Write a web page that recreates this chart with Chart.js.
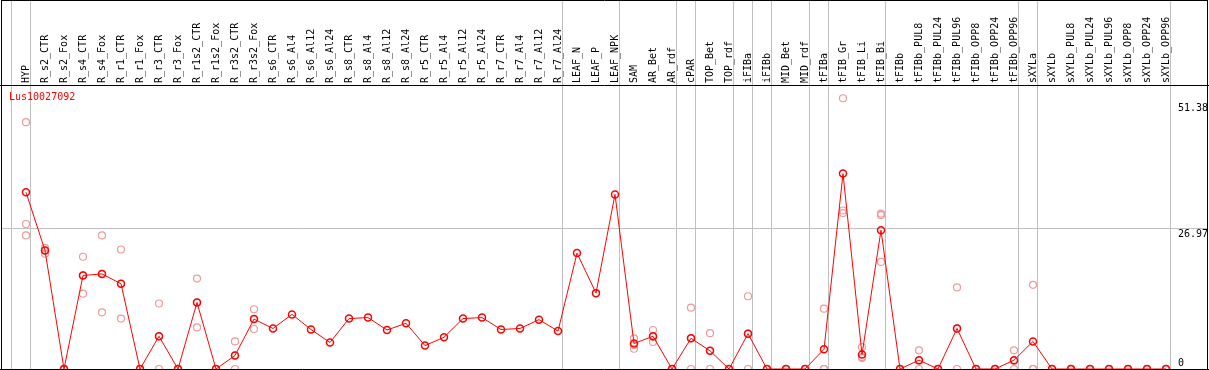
<!DOCTYPE html>
<html>
<head>
<meta charset="utf-8">
<script src="https://cdn.jsdelivr.net/npm/chart.js@4/dist/chart.umd.min.js"></script>
<style>
  html, body { margin: 0; padding: 0; background: #fff; }
  #wrap { width: 1209px; height: 370px; }
</style>
</head>
<body>
<div id="wrap"><canvas id="chart" width="1209" height="370"></canvas></div>
<script>
const seriesName = "Lus10027092";

const sampleLabels = [
  "HYP", "R_s2_CTR", "R_s2_Fox", "R_s4_CTR", "R_s4_Fox", "R_r1_CTR", "R_r1_Fox",
  "R_r3_CTR", "R_r3_Fox", "R_r1s2_CTR", "R_r1s2_Fox", "R_r3s2_CTR", "R_r3s2_Fox",
  "R_s6_CTR", "R_s6_Al4", "R_s6_Al12", "R_s6_Al24", "R_s8_CTR", "R_s8_Al4",
  "R_s8_Al12", "R_s8_Al24", "R_r5_CTR", "R_r5_Al4", "R_r5_Al12", "R_r5_Al24",
  "R_r7_CTR", "R_r7_Al4", "R_r7_Al12", "R_r7_Al24", "LEAF_N", "LEAF_P", "LEAF_NPK",
  "SAM", "AR_Bet", "AR_rdf", "cPAR", "TOP_Bet", "TOP_rdf", "iFIBa", "iFIBb",
  "MID_Bet", "MID_rdf", "tFIBa", "tFIB_Gr", "tFIB_Li", "tFIB_Bi", "tFIBb",
  "tFIBb_PUL8", "tFIBb_PUL24", "tFIBb_PUL96", "tFIBb_OPP8", "tFIBb_OPP24", "tFIBb_OPP96",
  "sXYLa", "sXYLb", "sXYLb_PUL8", "sXYLb_PUL24", "sXYLb_PUL96", "sXYLb_OPP8",
  "sXYLb_OPP24", "sXYLb_OPP96"
];

// mean expression per sample
const meanValues = [
  34.0, 22.8, 0, 18.0, 18.3, 16.4, 0, 6.3, 0, 12.8, 0, 2.6, 9.6,
  7.8, 10.5, 7.6, 5.1, 9.7, 9.9, 7.5, 8.8, 4.5, 6.1, 9.7, 9.9,
  7.6, 7.8, 9.5, 7.3, 22.3, 14.6, 33.6,
  4.9, 6.3, 0, 5.9, 3.5, 0, 6.8, 0, 0, 0, 3.8, 37.6, 2.8, 26.7, 0,
  1.7, 0, 7.8, 0, 0, 1.7,
  5.3, 0, 0, 0, 0, 0, 0, 0
];

// individual replicates (null = not shown)
const rep1 = [
  47.5, 23.3, 0, 21.6, 25.7, 23.0, 0, 12.6, 0, 17.4, 0, 5.3, 11.5,
  null, null, null, null, null, null, null, null, null, null, null, null,
  null, null, null, null, null, null, null,
  5.9, 7.5, 0, 11.8, 6.9, 0, 14.0, 0, 0, 0, 11.6, 52.1, 4.2, 29.9, 0,
  3.6, 0, 15.7, 0, 0, 3.6,
  16.2, 0, 0, 0, 0, 0, 0, 0
];
const rep2 = [
  27.9, 22.2, 0, 14.5, 10.9, 9.7, 0, 0, 0, 8.0, 0, 0, 7.7,
  null, null, null, null, null, null, null, null, null, null, null, null,
  null, null, null, null, null, null, null,
  4.6, 5.2, 0, 0, 0, 0, 0, 0, 0, 0, 0, 30.5, 2.1, 29.6, 0,
  0, 0, 0, 0, 0, 0,
  0, 0, 0, 0, 0, 0, 0, 0
];
const rep3 = [
  25.7, 22.9, 0, 18.0, 18.3, 16.4, 0, 6.3, 0, 12.8, 0, 2.6, 9.6,
  null, null, null, null, null, null, null, null, null, null, null, null,
  null, null, null, null, null, null, null,
  3.9, 6.2, 0, 5.9, 3.5, 0, 6.8, 0, 0, 0, 0, 30.0, 2.3, 20.6, 0,
  1.6, 0, 7.8, 0, 0, 1.6,
  0, 0, 0, 0, 0, 0, 0, 0
];

// a separator line is drawn just right of these sample indices
const groupBreaks = [-1, 0, 28, 31, 34, 35, 37, 38, 39, 41, 42, 45, 52, 53, 60];
const yTickValues = [0, 26.97, 51.38];

const FONT = { family: "'DejaVu Sans Mono', 'Liberation Mono', monospace", size: 10 };

function toPoints(arr) {
  return arr.map((v, i) => ({ x: i, y: v }));
}

function repDataset(arr) {
  return {
    type: "scatter",
    data: toPoints(arr),
    borderColor: "#ee9a9a",
    backgroundColor: "transparent",
    pointRadius: 3.5,
    pointBorderWidth: 1.2,
    showLine: false,
    clip: false,
  };
}

function noPadding(s) {
  s.paddingLeft = 0;
  s.paddingRight = 0;
  s.paddingTop = 0;
  s.paddingBottom = 0;
}

// separators, frame and series name
const decorations = {
  id: "decorations",
  beforeDatasetsDraw(chart) {
    const { ctx, scales } = chart;
    const bottom = chart.chartArea.bottom;
    ctx.save();
    ctx.strokeStyle = "#c0c0c0";
    ctx.lineWidth = 1;
    groupBreaks.forEach(k => {
      const x = Math.round(scales.x.getPixelForValue(k + 4 / 19)) + 0.5;
      ctx.beginPath();
      ctx.moveTo(x, 0);
      ctx.lineTo(x, bottom);
      ctx.stroke();
    });
    ctx.restore();
  },
  afterDraw(chart) {
    const { ctx } = chart;
    const a = chart.chartArea;
    ctx.save();
    ctx.strokeStyle = "#000";
    ctx.lineWidth = 1;
    ctx.beginPath();
    ctx.moveTo(1.5, 0.5); ctx.lineTo(1207.5, 0.5);
    ctx.moveTo(1.5, 0); ctx.lineTo(1.5, 370);
    ctx.moveTo(1207.5, 0); ctx.lineTo(1207.5, 370);
    ctx.moveTo(0, a.top + 0.5); ctx.lineTo(1209, a.top + 0.5);
    ctx.moveTo(0, 369.5); ctx.lineTo(1209, 369.5);
    ctx.stroke();
    ctx.fillStyle = "#ff0000";
    ctx.font = "10px " + FONT.family;
    ctx.textBaseline = "middle";
    ctx.fillText(seriesName, 9, a.top + 12);
    ctx.restore();
  }
};

new Chart(document.getElementById("chart"), {
  type: "line",
  data: {
    datasets: [
      {
        data: toPoints(meanValues),
        borderColor: "#ff0000",
        borderWidth: 1,
        backgroundColor: "transparent",
        pointRadius: 3.5,
        pointBorderWidth: 1.5,
        pointBorderColor: "#ff0000",
        tension: 0,
        clip: false,
      },
      repDataset(rep1),
      repDataset(rep2),
      repDataset(rep3),
    ],
  },
  options: {
    responsive: false,
    devicePixelRatio: 1,
    animation: false,
    layout: { autoPadding: false, padding: { left: 1, right: 0, top: 0, bottom: 1 } },
    plugins: { legend: { display: false }, tooltip: { enabled: false } },
    scales: {
      x: {
        type: "linear",
        position: "top",
        min: -25 / 19,
        max: 60 + 42 / 19,
        afterBuildTicks: s => { s.ticks = sampleLabels.map((_, i) => ({ value: i })); },
        afterFit: s => { s.height = 85; noPadding(s); },
        ticks: {
          autoSkip: false,
          minRotation: 90,
          maxRotation: 90,
          padding: 2,
          labelOffset: 12,
          color: "#000",
          font: FONT,
          callback: v => sampleLabels[v],
        },
        grid: { display: false, drawTicks: false },
        border: { display: false },
      },
      y: {
        type: "linear",
        position: "right",
        min: 0,
        max: 54.65,
        afterBuildTicks: s => { s.ticks = yTickValues.map(v => ({ value: v })); },
        afterFit: s => { s.width = 1; noPadding(s); },
        ticks: {
          mirror: true,
          crossAlign: "far",
          padding: 0,
          color: "#000",
          font: FONT,
          callback: v => v === 0 ? ["0", ""] : ["", String(v)],
        },
        grid: {
          drawTicks: false,
          color: c => (c.tick && c.tick.value === 26.97) ? "#c0c0c0" : "transparent",
        },
        border: { display: false },
      },
    },
  },
  plugins: [decorations],
});
</script>
</body>
</html>
